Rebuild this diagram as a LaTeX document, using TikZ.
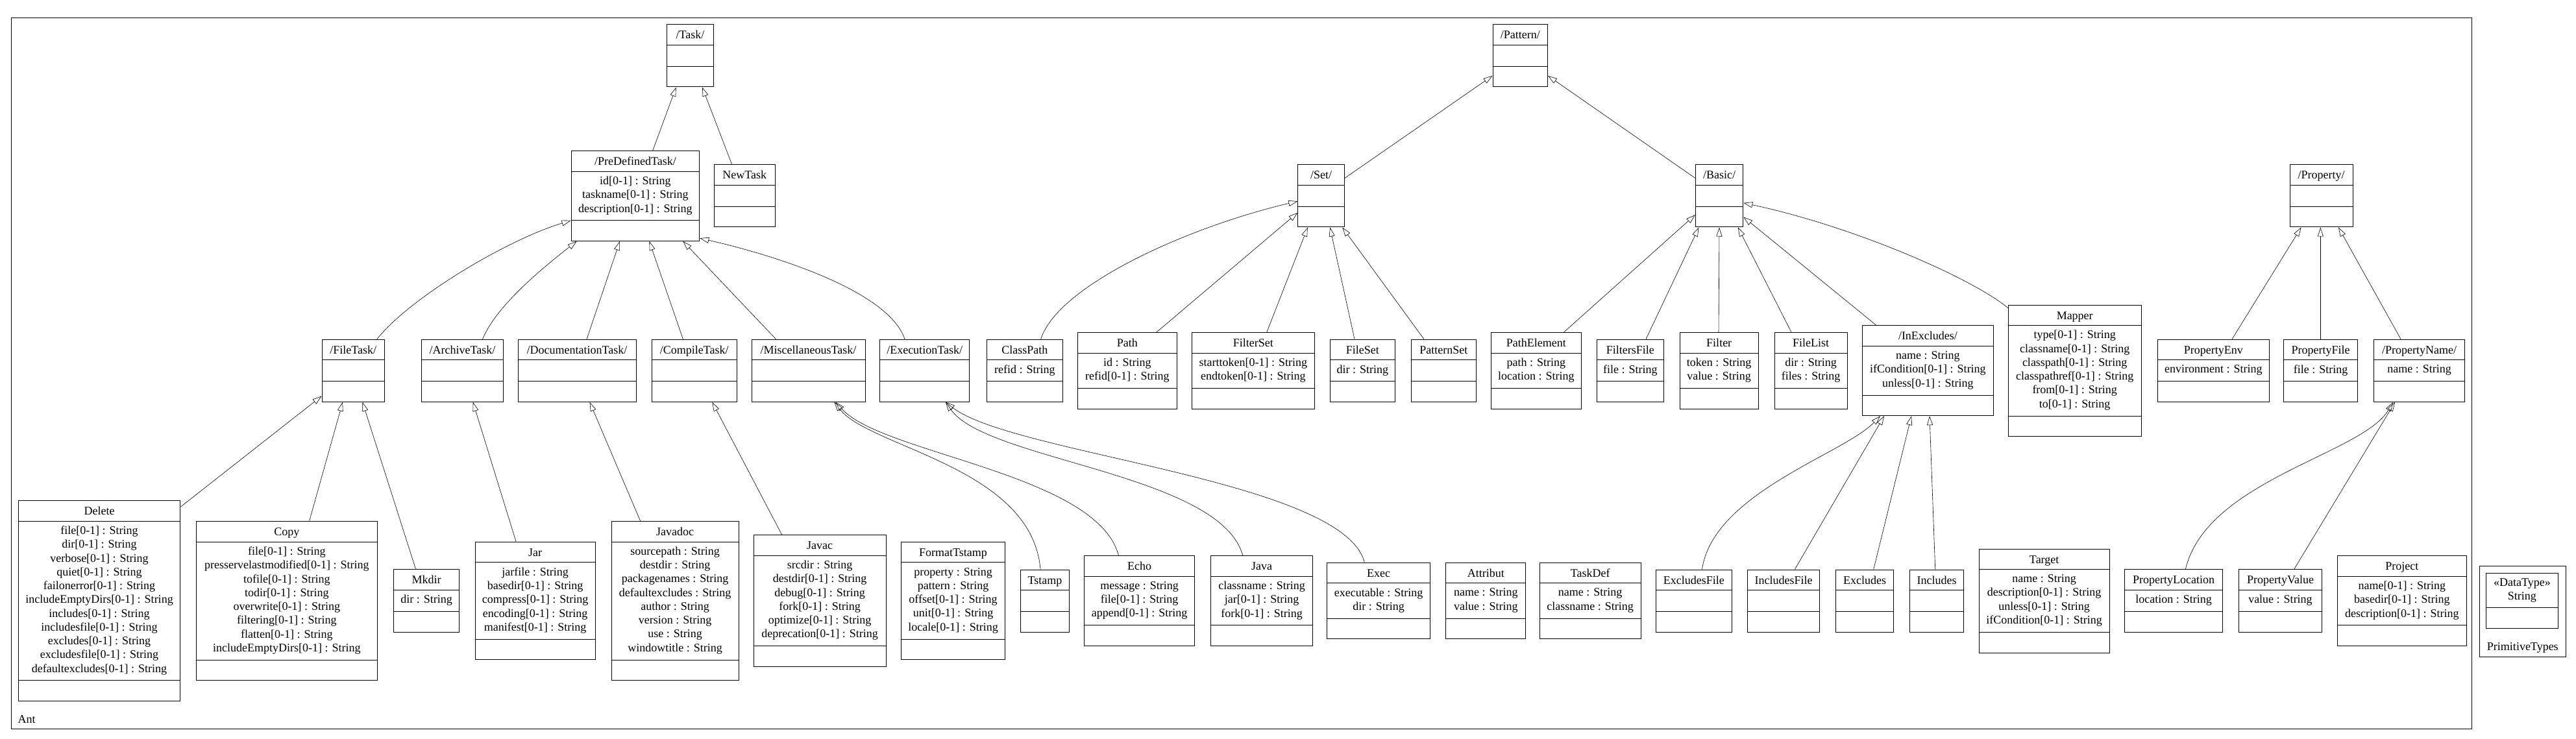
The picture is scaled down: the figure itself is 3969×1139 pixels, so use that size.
\documentclass[tikz,border=0pt]{standalone}
\usepackage{fontspec}
\setmainfont{Liberation Serif}
\usetikzlibrary{arrows.meta,calc}
\tikzset{
  classbox/.style={draw, line width=1pt, inner sep=0pt, fill=none},
  classline/.style={line width=1pt},
  classtitle/.style={anchor=base, inner sep=0pt, font=\fontsize{18pt}{21.25pt}\selectfont},
  classattr/.style={anchor=center, align=center, inner sep=0pt, font=\fontsize{18pt}{21.25pt}\selectfont},
  gen/.style={line width=0.6pt, -{Triangle[open,length=14pt,width=9pt]}},
}
\newcommand{\umlclass}[7]{%
  \ifnum#5=0 \def\ccomp{32}\else\pgfmathsetmacro\ccomp{21.25*#5+11}\fi
  \pgfmathsetmacro\chgt{64+\ccomp}%
  \node[classbox, minimum width=#4pt, minimum height=\chgt pt, anchor=west] (#1) at (#2,-#3) {};
  \node[classtitle] (#1-t) at ([yshift=-22.5pt]#1.north) {#6};
  \draw[classline] ([yshift=-32pt]#1.north west) -- ([yshift=-32pt]#1.north east);
  \draw[classline] ([yshift=32pt]#1.south west) -- ([yshift=32pt]#1.south east);
  \ifnum#5>0
    \pgfmathsetmacro\cmid{32+\ccomp/2}%
    \node[classattr] (#1-a) at ([yshift=-\cmid pt]#1.north) {#7};
  \fi
}
\begin{document}
\begin{tikzpicture}[x=1pt,y=1pt]
\useasboundingbox (0,0) rectangle (3969,-1139);
% package frame
\node[draw, line width=1.2pt, inner sep=0pt, minimum width=3791.5pt, minimum height=1095.4pt, anchor=north west] (Ant) at (16.5,-27.3) {};
\node[anchor=base west, inner sep=0pt, font=\fontsize{18pt}{21.25pt}\selectfont] (AntLabel) at (27.5,-1114.5) {Ant};

% row 0
\umlclass{Task}{1027}{86}{72}{0}{/Task/}{}
\umlclass{Pattern}{2299.5}{86}{84.5}{0}{/Pattern/}{}
% row 1
\umlclass{PreDefinedTask}{879.5}{302}{197.8}{3}{/PreDefinedTask/}{id[0-1] : String\\taskname[0-1] : String\\description[0-1] : String}
\umlclass{NewTask}{1100}{302}{93.5}{0}{NewTask}{}
\umlclass{Set}{1999.3}{302}{71.7}{0}{/Set/}{}
\umlclass{Basic}{2611.8}{302}{73.5}{0}{/Basic/}{}
\umlclass{Property}{3527.6}{302}{97}{0}{/Property/}{}
% row 2
\umlclass{FileTask}{495.5}{571.3}{96.3}{0}{/FileTask/}{}
\umlclass{ArchiveTask}{648.5}{571.3}{126.8}{0}{/ArchiveTask/}{}
\umlclass{DocumentationTask}{797.5}{571.3}{182}{0}{/DocumentationTask/}{}
\umlclass{CompileTask}{1003.6}{571.3}{131.4}{0}{/CompileTask/}{}
\umlclass{MiscellaneousTask}{1157.5}{571.3}{175}{0}{/MiscellaneousTask/}{}
\umlclass{ExecutionTask}{1355.2}{571.3}{137.8}{0}{/ExecutionTask/}{}
\umlclass{ClassPath}{1520}{571.3}{116.5}{1}{ClassPath}{refid : String}
\umlclass{Path}{1660}{571.3}{152.5}{2}{Path}{id : String\\refid[0-1] : String}
\umlclass{FilterSet}{1835.8}{571.3}{189}{2}{FilterSet}{starttoken[0-1] : String\\endtoken[0-1] : String}
\umlclass{FileSet}{2048.8}{571.3}{100.2}{1}{FileSet}{dir : String}
\umlclass{PatternSet}{2174}{571.3}{99.5}{0}{PatternSet}{}
\umlclass{PathElement}{2296.7}{571.3}{139.3}{2}{PathElement}{path : String\\location : String}
\umlclass{FiltersFile}{2460}{571.3}{102.8}{1}{FiltersFile}{file : String}
\umlclass{Filter}{2587.7}{571.3}{121}{2}{Filter}{token : String\\value : String}
\umlclass{FileList}{2733.6}{571.3}{111.9}{2}{FileList}{dir : String\\files : String}
\umlclass{InExcludes}{2869.3}{571.3}{201.3}{3}{/InExcludes/}{name : String\\ifCondition[0-1] : String\\unless[0-1] : String}
\umlclass{Mapper}{3093.7}{571.3}{205}{6}{Mapper}{type[0-1] : String\\classname[0-1] : String\\classpath[0-1] : String\\classpathref[0-1] : String\\from[0-1] : String\\to[0-1] : String}
\umlclass{PropertyEnv}{3324}{571.3}{171.5}{1}{PropertyEnv}{environment : String}
\umlclass{PropertyFile}{3518}{571.3}{114}{1}{PropertyFile}{file : String}
\umlclass{PropertyName}{3657.3}{571.3}{139.4}{1}{/PropertyName/}{name : String}
% row 3
\umlclass{Delete}{27.6}{926}{249.8}{11}{Delete}{file[0-1] : String\\dir[0-1] : String\\verbose[0-1] : String\\quiet[0-1] : String\\failonerror[0-1] : String\\includeEmptyDirs[0-1] : String\\includes[0-1] : String\\includesfile[0-1] : String\\excludes[0-1] : String\\excludesfile[0-1] : String\\defaultexcludes[0-1] : String}
\umlclass{Copy}{301.7}{926}{279.2}{8}{Copy}{file[0-1] : String\\presservelastmodified[0-1] : String\\tofile[0-1] : String\\todir[0-1] : String\\overwrite[0-1] : String\\filtering[0-1] : String\\flatten[0-1] : String\\includeEmptyDirs[0-1] : String}
\umlclass{Mkdir}{606}{926}{101.2}{1}{Mkdir}{dir : String}
\umlclass{Jar}{731.5}{926}{185.4}{5}{Jar}{jarfile : String\\basedir[0-1] : String\\compress[0-1] : String\\encoding[0-1] : String\\manifest[0-1] : String}
\umlclass{Javadoc}{941.8}{926}{195.7}{8}{Javadoc}{sourcepath : String\\destdir : String\\packagenames : String\\defaultexcludes : String\\author : String\\version : String\\use : String\\windowtitle : String}
\umlclass{Javac}{1160.5}{926}{204.2}{6}{Javac}{srcdir : String\\destdir[0-1] : String\\debug[0-1] : String\\fork[0-1] : String\\optimize[0-1] : String\\deprecation[0-1] : String}
\umlclass{FormatTstamp}{1387.7}{926}{160.6}{5}{FormatTstamp}{property : String\\pattern : String\\offset[0-1] : String\\unit[0-1] : String\\locale[0-1] : String}
\umlclass{Tstamp}{1571.5}{926}{75.8}{0}{Tstamp}{}
\umlclass{Echo}{1670}{926}{170.2}{3}{Echo}{message : String\\file[0-1] : String\\append[0-1] : String}
\umlclass{Java}{1865}{926}{157}{3}{Java}{classname : String\\jar[0-1] : String\\fork[0-1] : String}
\umlclass{Exec}{2044.3}{926}{158.7}{2}{Exec}{executable : String\\dir : String}
\umlclass{Attribut}{2227.3}{926}{123.1}{2}{Attribut}{name : String\\value : String}
\umlclass{TaskDef}{2371.5}{926}{156.3}{2}{TaskDef}{name : String\\classname : String}
\umlclass{ExcludesFile}{2551}{926}{116.6}{0}{ExcludesFile}{}
\umlclass{IncludesFile}{2692}{926}{111.4}{0}{IncludesFile}{}
\umlclass{Excludes}{2827.8}{926}{89.6}{0}{Excludes}{}
\umlclass{Includes}{2942}{926}{83}{0}{Includes}{}
\umlclass{Target}{3048.7}{926}{200.9}{4}{Target}{name : String\\description[0-1] : String\\unless[0-1] : String\\ifCondition[0-1] : String}
\umlclass{PropertyLocation}{3273}{926}{151.2}{1}{PropertyLocation}{location : String}
\umlclass{PropertyValue}{3448.7}{926}{128.5}{1}{PropertyValue}{value : String}
\umlclass{Project}{3600.7}{926}{199.1}{3}{Project}{name[0-1] : String\\basedir[0-1] : String\\description[0-1] : String}

% PrimitiveTypes package
\node[classbox, minimum width=133pt, minimum height=139.4pt, anchor=north west] (PrimitiveTypes) at (3819.8,-872.3) {};
\node[classbox, minimum width=111.3pt, minimum height=85pt, anchor=north west] (DataTypeString) at (3829.7,-883.3) {};
\node[classattr] (DataTypeString-t) at ([yshift=-26.7pt]DataTypeString.north) {«DataType»\\String};
\draw[classline] ([yshift=-53.4pt]DataTypeString.north west) -- ([yshift=-53.4pt]DataTypeString.north east);
\node[classtitle] (PrimitiveTypes-l) at ([yshift=10.5pt]PrimitiveTypes.south) {PrimitiveTypes};

% generalizations
\draw[gen] ([xshift=126.2pt]PreDefinedTask.north west) -- ([xshift=14.7pt]Task.south west);
\draw[gen] ([xshift=27.7pt]NewTask.north west) -- ([xshift=55pt]Task.south west);
\draw[gen] ([xshift=85.3pt]FileTask.north west) .. controls (630,-460) and (780,-370) .. ([yshift=32pt]PreDefinedTask.south west);
\draw[gen] ([xshift=95pt]ArchiveTask.north west) .. controls (765,-470) and (840,-410) .. ([xshift=9pt]PreDefinedTask.south west);
\draw[gen] ([xshift=106.5pt]DocumentationTask.north west) -- ([xshift=75.5pt]PreDefinedTask.south west);
\draw[gen] ([xshift=48.8pt]CompileTask.north west) -- ([xshift=120.9pt]PreDefinedTask.south west);
\draw[gen] ([xshift=38.1pt]MiscellaneousTask.north west) -- ([xshift=172.9pt]PreDefinedTask.south west);
\draw[gen] ([xshift=38.8pt]ExecutionTask.north west) .. controls (1370,-450) and (1200,-395) .. ([yshift=4.7pt]PreDefinedTask.south east);
\draw[gen] ([yshift=-10pt]Delete.north east) -- ([yshift=9.3pt]FileTask.south west);
\draw[gen] ([xshift=174.9pt]Copy.north west) -- ([xshift=32.5pt]FileTask.south west);
\draw[gen] ([xshift=34.6pt]Mkdir.north west) -- ([xshift=63pt]FileTask.south west);
\draw[gen] ([xshift=63.6pt]Jar.north west) -- ([xshift=80.2pt]ArchiveTask.south west);
\draw[gen] ([xshift=44.8pt]Javadoc.north west) -- ([xshift=111.1pt]DocumentationTask.south west);
\draw[gen] ([xshift=44.2pt]Javac.north west) -- ([xshift=93.8pt]CompileTask.south west);
\draw[gen] ([xshift=31.5pt]Tstamp.north west) .. controls (1590,-720) and (1340,-690) .. ([xshift=127.9pt]MiscellaneousTask.south west);
\draw[gen] ([xshift=53.5pt]Echo.north west) .. controls (1690,-730) and (1360,-700) .. ([xshift=130pt]MiscellaneousTask.south west);
\draw[gen] ([xshift=49.8pt]Java.north west) .. controls (1880,-730) and (1520,-710) .. ([xshift=101.8pt]ExecutionTask.south west);
\draw[gen] ([xshift=58pt]Exec.north west) .. controls (2070,-740) and (1560,-700) .. ([xshift=101.8pt]ExecutionTask.south west);
% Set / Basic / Pattern
\draw[gen] ([yshift=-21pt]Set.north east) -- ([yshift=-79.3pt]Pattern.north west);
\draw[gen] ([yshift=-21pt]Basic.north west) -- ([yshift=-79.3pt]Pattern.north east);
\draw[gen] ([xshift=83.6pt]ClassPath.north west) .. controls (1630,-440) and (1830,-350) .. ([yshift=-56.7pt]Set.north west);
\draw[gen] ([xshift=121.9pt]Path.north west) -- ([yshift=-74.3pt]Set.north west);
\draw[gen] ([xshift=116pt]FilterSet.north west) -- ([xshift=15.5pt]Set.south west);
\draw[gen] ([xshift=38.2pt]FileSet.north west) -- ([xshift=49.9pt]Set.south west);
\draw[gen] ([xshift=20pt]PatternSet.north west) -- ([xshift=69pt]Set.south west);
\draw[gen] ([xshift=112.8pt]PathElement.north west) -- ([yshift=-77.7pt]Basic.north west);
\draw[gen] ([xshift=76pt]FiltersFile.north west) -- ([xshift=5.7pt]Basic.south west);
\draw[gen] ([xshift=60.3pt]Filter.north west) -- ([xshift=37.2pt]Basic.south west);
\draw[gen] ([xshift=26.4pt]FileList.north west) -- ([xshift=66pt]Basic.south west);
\draw[gen] ([xshift=21.7pt]InExcludes.north west) -- ([yshift=-81pt]Basic.north east);
\draw[gen] ([yshift=-5pt]Mapper.north west) .. controls (3040,-430) and (2860,-350) .. ([yshift=-59.3pt]Basic.north east);
% Property
\draw[gen] ([xshift=115pt]PropertyEnv.north west) -- ([xshift=17.9pt]Property.south west);
\draw[gen] ([xshift=57.3pt]PropertyFile.north west) -- ([xshift=47.7pt]Property.south west);
\draw[gen] ([xshift=41.7pt]PropertyName.north west) -- ([xshift=75.4pt]Property.south west);
\draw[gen] ([xshift=94.3pt]PropertyLocation.north west) .. controls (3400,-740) and (3640,-700) .. ([xshift=29.7pt]PropertyName.south west);
\draw[gen] ([xshift=85.9pt]PropertyValue.north west) -- ([xshift=32.7pt]PropertyName.south west);
% InExcludes
\draw[gen] ([xshift=71.4pt]ExcludesFile.north west) .. controls (2640,-760) and (2840,-700) .. ([xshift=27.7pt]InExcludes.south west);
\draw[gen] ([xshift=73.4pt]IncludesFile.north west) -- ([xshift=33.7pt]InExcludes.south west);
\draw[gen] ([xshift=58.9pt]Excludes.north west) -- ([xshift=75.7pt]InExcludes.south west);
\draw[gen] ([xshift=39.7pt]Includes.north west) -- ([xshift=103.7pt]InExcludes.south west);
\end{tikzpicture}
\end{document}
